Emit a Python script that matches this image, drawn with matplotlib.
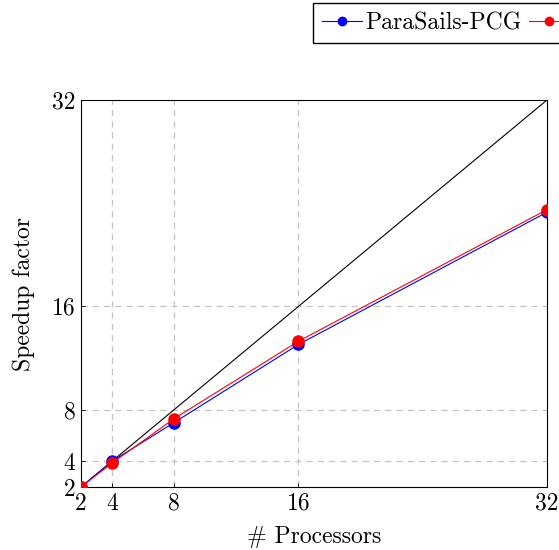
import matplotlib
matplotlib.use("Agg")
import matplotlib.pyplot as plt

processors = [2, 4, 8, 16, 32]
speedup_pcg = [2.0, 4.0, 7.0, 13.05, 23.3]
speedup_other = [2.0, 3.86, 7.3, 13.3, 23.5]
ideal = [2, 32]
ticks = [2, 4, 8, 16, 32]
grid_vals = [4, 8, 16]

plt.rcParams.update({
    "font.family": "serif",
    "font.serif": ["cmr10", "DejaVu Serif"],
    "mathtext.fontset": "cm",
    "axes.formatter.use_mathtext": True,
    "font.size": 17,
})

fig = plt.figure(figsize=(5.59, 5.50), dpi=100)
ax = fig.add_axes([81 / 559, 1 - 487 / 550, 466 / 559, 387 / 550])

for v in grid_vals:
    ax.axvline(v, color="#c4c4c4", linestyle=(0, (5, 4)), linewidth=0.9, zorder=0)
    ax.axhline(v, color="#c4c4c4", linestyle=(0, (5, 4)), linewidth=0.9, zorder=0)

ax.plot(ideal, ideal, color="black", linewidth=0.8, zorder=2)
ax.plot(processors, speedup_pcg, color="blue", marker="o", markersize=8,
        linewidth=0.8, label="ParaSails-PCG", zorder=3)
ax.plot(processors, speedup_other, color="red", marker="o", markersize=8,
        linewidth=0.8, label="ParaSails-BiCGSTAB", zorder=4)

ax.set_xlim(2, 32)
ax.set_ylim(2, 32)
ax.set_xticks(ticks)
ax.set_yticks(ticks)
ax.set_xticklabels([str(t) for t in ticks])
ax.set_yticklabels([str(t) for t in ticks])
ax.tick_params(direction="in", length=3, width=0.6, labelsize=17, pad=4)
for s in ax.spines.values():
    s.set_linewidth(0.8)

ax.set_xlabel("# Processors", fontsize=17, labelpad=8)
ax.set_ylabel("Speedup factor", fontsize=17, labelpad=12)

fig.legend(loc="upper left", bbox_to_anchor=(313 / 559, 1 - 3 / 550), ncol=2,
           frameon=True, fancybox=False, edgecolor="black", framealpha=1,
           fontsize=17, handlelength=1.7, handletextpad=0.15, columnspacing=0.3,
           borderpad=0.38, borderaxespad=0, markerscale=0.75)

fig.savefig("out.png", dpi=100)
